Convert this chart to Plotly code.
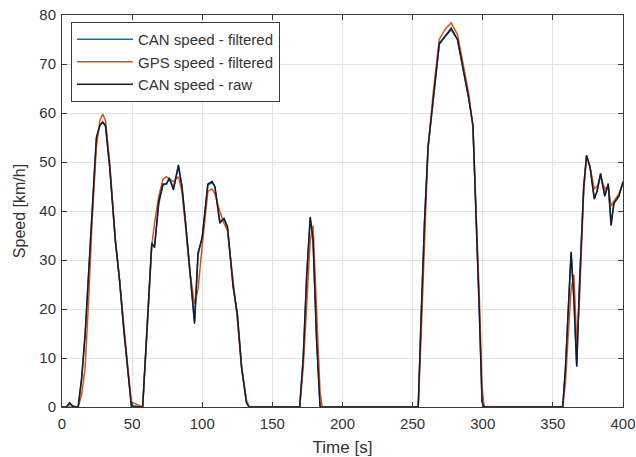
import plotly.graph_objects as go

time_s = [0, 3, 5.5, 8, 11.5, 14, 16.5, 19, 21.5, 24.5, 27, 29, 31, 34, 38, 41, 44, 47, 49.5,
          57.5, 60, 62.5, 64, 66, 69, 72, 74.5, 76.5, 79.5, 83, 85.5, 88, 91, 94.5, 97, 100,
          104, 107, 109, 112.5, 115.5, 118, 122, 125, 128, 131.5, 133.5,
          169.5, 172, 174.5, 177, 179, 181.5, 184, 185.5,
          254, 256, 258.5, 261, 265, 269, 273, 277.5, 282, 286, 290, 293, 295.5, 297.5, 299.5, 301,
          357, 359, 361, 363, 365, 367, 369, 372, 374, 376.5, 379.5, 381.5, 384, 387, 389.5,
          391.5, 393.5, 397, 400]

can_raw = [0, 0, 0.9, 0, 0, 6, 15, 28, 41, 55, 57.5, 58.2, 57.5, 49, 34, 26, 16, 8, 0,
           0, 13, 24, 33.5, 32.5, 42, 45.5, 45.5, 46.8, 44.3, 49.4, 45, 38, 29, 17, 31.5, 34.5,
           45.5, 46, 45, 37.5, 38.5, 36.8, 24.6, 19, 8.2, 0.8, 0,
           0, 10, 27, 38.8, 34, 14, 0, 0,
           0, 18, 38, 53, 64, 74.2, 75.6, 77.3, 75, 69, 63, 57.5, 38, 20, 1, 0,
           0, 8, 20, 31.7, 22, 8.2, 25, 45, 51.4, 49, 42.4, 44, 47.7, 43, 45.6,
           37, 41.6, 43, 46]

can_filtered = [0, 0, 0.6, 0.2, 0, 5.5, 14.5, 27.5, 41, 54.5, 57.5, 58, 57.3, 49, 34, 26, 16, 8, 0.3,
                0, 12.5, 24, 33, 33, 41.5, 45.3, 45.6, 46.5, 44.8, 49, 45.2, 38, 29, 17.5, 31, 34.8,
                45.3, 45.8, 45, 38, 38.3, 36.5, 24.6, 19, 8.5, 1, 0,
                0, 10, 27, 38.5, 34, 14, 0.3, 0,
                0, 17.5, 38, 53, 64, 74, 75.5, 77, 75, 69, 63, 57.5, 38, 20, 1.2, 0,
                0, 8, 20, 31.3, 22, 8.6, 25, 45, 51.2, 49, 42.8, 44, 47.5, 43.3, 45.3,
                37.5, 41.5, 43, 46]

gps_filtered = [0, 0, 0, 0, 0, 2.5, 8, 22, 38, 53, 58.5, 59.8, 58.5, 50, 34.5, 26, 16.5, 8, 1,
                0, 12, 25, 33, 37.5, 43, 46.5, 47, 46.5, 46, 47, 44, 37, 28, 21, 24, 33,
                44, 44.5, 43.5, 40, 37.5, 36, 25, 18, 8, 1.5, 0,
                0, 8, 22, 34, 37, 18, 3, 0,
                0, 14, 35, 53, 65, 75, 77, 78.4, 76, 70, 64, 57, 40, 23, 4, 0,
                0, 5, 15, 24, 27, 13, 22, 44, 51, 49, 44.5, 45, 47, 44.5, 45,
                41, 42, 43.5, 45.5]

x_ticks = [0, 50, 100, 150, 200, 250, 300, 350, 400]
y_ticks = [0, 10, 20, 30, 40, 50, 60, 70, 80]

FONT = "Liberation Sans, Arial, Helvetica, sans-serif"
TXT = "#333333"

fig = go.Figure()
fig.add_trace(go.Scatter(x=time_s, y=can_filtered, mode="lines", name="CAN speed - filtered",
                         line=dict(color="#0072BD", width=1.5)))
fig.add_trace(go.Scatter(x=time_s, y=gps_filtered, mode="lines", name="GPS speed - filtered",
                         line=dict(color="#D95319", width=1.5)))
fig.add_trace(go.Scatter(x=time_s, y=can_raw, mode="lines", name="CAN speed - raw",
                         line=dict(color="#1a1a2a", width=1.5)))

axis_common = dict(showgrid=True, gridcolor="#e3e3e3", gridwidth=1, zeroline=False,
                   showline=True, linecolor="#3a3a3a", linewidth=1, mirror="ticks",
                   ticks="inside", ticklen=5, tickcolor="#3a3a3a", automargin=False,
                   ticklabeloverflow="allow",
                   tickfont=dict(family=FONT, size=15, color=TXT))

fig.update_layout(
    width=636, height=457,
    margin=dict(l=62, r=13, t=15, b=50),
    paper_bgcolor="white", plot_bgcolor="white",
    font=dict(family=FONT, color=TXT),
    xaxis=dict(range=[0, 400], tickvals=x_ticks, ticklabelstandoff=3,
               title=dict(text="Time [s]", font=dict(size=17, color=TXT), standoff=10),
               **axis_common),
    yaxis=dict(range=[0, 80], tickvals=y_ticks, ticklabelstandoff=2,
               title=dict(text="Speed [km/h]", font=dict(size=16, color=TXT), standoff=9),
               **axis_common),
    legend=dict(x=0.016, y=0.982, xanchor="left", yanchor="top",
                bgcolor="white", bordercolor="#3a3a3a", borderwidth=1,
                font=dict(family=FONT, size=15, color=TXT),
                itemwidth=56, tracegroupgap=0),
    showlegend=True,
)

# Remove the page's default body margin so the 636x457 figure fills the window exactly.
fig.write_html("out.html", config={"displayModeBar": False},
               post_script="document.body.style.margin='0';document.body.style.overflow='hidden';")
